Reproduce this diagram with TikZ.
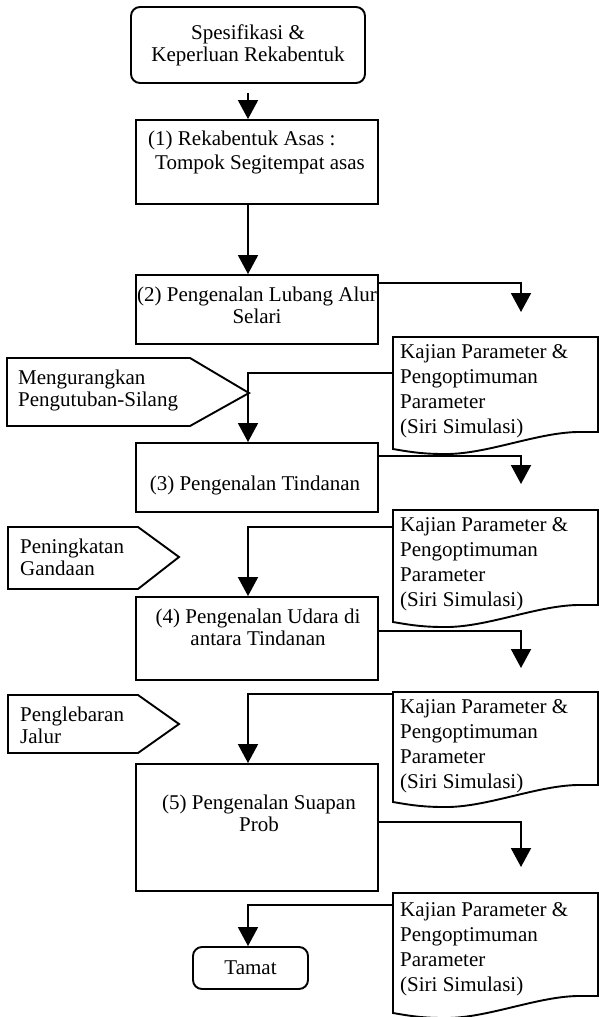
\documentclass[tikz,border=0pt]{standalone}
\usepackage{fontspec}
\setmainfont{Liberation Serif}
\usetikzlibrary{arrows.meta}

\newcommand{\kajianframe}[2]{%
	\draw[frame] (393,#1) -- (598,#1) -- (598,#1+95+#2) -- (577,#1+95+#2)
		.. controls (535,#1+96+#2) and (485,#1+118+#2) .. (443,#1+117+#2)
		.. controls (420,#1+117+#2) and (405,#1+114+#2) .. (393,#1+112+#2) -- cycle;}

\tikzset{
	frame/.style={line width=1.9pt},
	stepbox/.style={draw,line width=1.9pt,minimum width=242pt,inner sep=0pt},
	roundbox/.style={stepbox,rounded corners=9pt},
	txt/.style={inner sep=0pt,font=\fontsize{21pt}{22pt}\selectfont},
	kajtxt/.style={inner sep=0pt,align=left,anchor=north west,font=\fontsize{21pt}{25pt}\selectfont},
	flow/.style={line width=1.9pt,-{Triangle[width=20pt,length=19pt]}}
}

\begin{document}
\begin{tikzpicture}[x=1pt,y=-1pt]
	\useasboundingbox (0,0) rectangle (598,1017);
	\node[roundbox,minimum width=234pt,minimum height=76pt,txt,align=center] (start) at (248,45) {Spesifikasi \&\\Keperluan Rekabentuk};
	\node[stepbox,minimum height=84pt] (b1) at (257,162) {};
	\node[txt,align=left,anchor=north west,font=\fontsize{21pt}{24pt}\selectfont] (b1txt) at (148,131) {(1) Rekabentuk Asas :\\\hspace*{7pt}Tompok Segitempat asas};
	\node[stepbox,minimum height=69pt] (b2) at (257,309.5) {};
	\node[txt,align=center,anchor=north] (b2txt) at (257,287) {(2) Pengenalan Lubang Alur\\Selari};
	\node[stepbox,minimum height=69pt] (b3) at (257,477.5) {};
	\node[txt] (b3txt) at (255,485) {(3) Pengenalan Tindanan};
	\node[stepbox,minimum height=83pt] (b4) at (257,638.5) {};
	\node[txt,align=center,anchor=north] (b4txt) at (258,609) {(4) Pengenalan Udara di\\antara Tindanan};
	\node[stepbox,minimum height=127pt] (b5) at (257,827.5) {};
	\node[txt,align=center,anchor=north] (b5txt) at (259,795) {(5) Pengenalan Suapan\\Prob};
	\node[roundbox,minimum width=115pt,minimum height=42pt,txt] (tamat) at (250.5,968) {Tamat};

	\draw[frame] (7,358) -- (190,358) -- (249,393) -- (190,426) -- (7,426) -- cycle;
	\node[txt,align=left,anchor=north west] (kurang) at (18,370) {Mengurangkan\\Pengutuban-Silang};
	\draw[frame] (8,527) -- (138,527) -- (179,557) -- (138,589) -- (8,589) -- cycle;
	\node[txt,align=left,anchor=north west] (gandaan) at (20,539) {Peningkatan\\Gandaan};
	\draw[frame] (8,695) -- (138,695) -- (179,724) -- (138,753) -- (8,753) -- cycle;
	\node[txt,align=left,anchor=north west] (jalur) at (20,707) {Penglebaran\\Jalur};

	\kajianframe{337}{0}
	\node[kajtxt] (kaj1) at (400,344) {Kajian Parameter \&\\Pengoptimuman\\Parameter\\(Siri Simulasi)};
	\kajianframe{510}{0}
	\node[kajtxt] (kaj2) at (400,517) {Kajian Parameter \&\\Pengoptimuman\\Parameter\\(Siri Simulasi)};
	\kajianframe{692}{-2}
	\node[kajtxt] (kaj3) at (400,699) {Kajian Parameter \&\\Pengoptimuman\\Parameter\\(Siri Simulasi)};
	\kajianframe{893}{8}
	\node[kajtxt] (kaj4) at (400,902) {Kajian Parameter \&\\Pengoptimuman\\Parameter\\(Siri Simulasi)};

	\coordinate (spine) at (248,0);
	\draw[flow,shorten <=9pt] (start.south) -- (start.south |- b1.north);
	\draw[flow] (spine |- b1.south) -- (spine |- b2.north);
	\coordinate (k1) at (393,373);
	\draw[flow] (k1) -| (spine |- b3.north);
	\coordinate (k2) at (393,527);
	\draw[flow] (k2) -| (spine |- b4.north);
	\coordinate (k3) at (393,694);
	\draw[flow] (k3) -| (spine |- b5.north);
	\coordinate (k4) at (393,905);
	\draw[flow] (k4) -| (spine |- tamat.north);

	\coordinate (t2) at (521,312);
	\draw[flow] ([yshift=-9pt]b2.north east) -| (t2);
	\coordinate (t3) at (521,484);
	\draw[flow] ([yshift=-14pt]b3.north east) -| (t3);
	\coordinate (t4) at (521,668);
	\draw[flow] ([yshift=-35pt]b4.north east) -| (t4);
	\coordinate (t5) at (521,867);
	\draw[flow] ([yshift=-59pt]b5.north east) -| (t5);
\end{tikzpicture}
\end{document}
